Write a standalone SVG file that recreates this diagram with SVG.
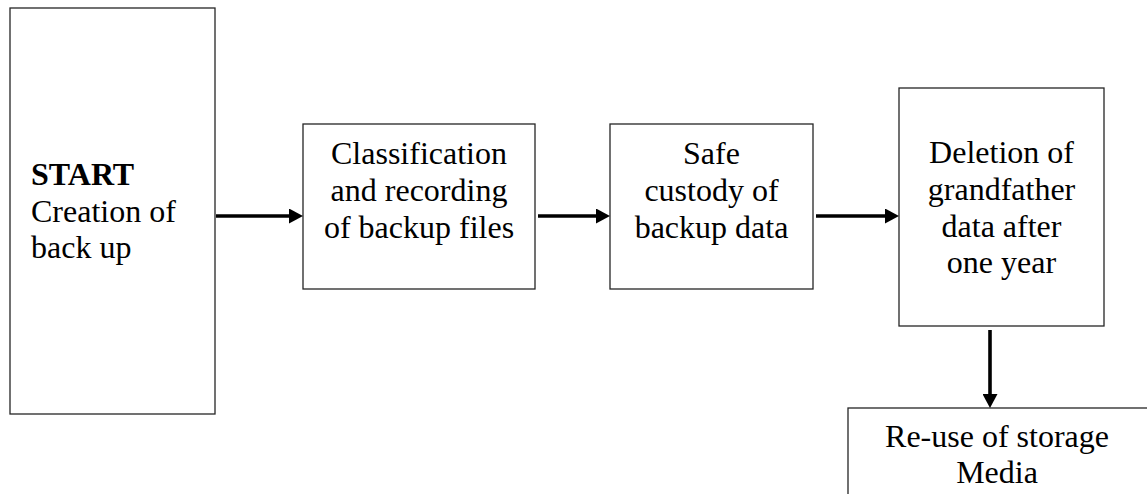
<svg xmlns="http://www.w3.org/2000/svg" width="1147" height="494" viewBox="0 0 1147 494">
  <style>
    .box { fill: #ffffff; stroke: #262626; stroke-width: 1.3; }
    .lbl { font-family: "Liberation Serif", "Times New Roman", serif; font-size: 32px; fill: #000000; }
    .mid { text-anchor: middle; }
    .bold { font-weight: bold; }
    .conn { stroke: #000000; stroke-width: 3.6; fill: none; }
  </style>
  <defs>
    <marker id="arrow" viewBox="0 0 14 15" refX="4" refY="7.5" markerWidth="14" markerHeight="15" markerUnits="userSpaceOnUse" orient="auto">
      <path d="M0,0 L14,7.5 L0,15 Z" fill="#000000"/>
    </marker>
  </defs>

  <rect width="1147" height="494" fill="#ffffff"/>

  <!-- Backup lifecycle steps -->
  <g id="node-start">
    <rect class="box" x="10" y="8" width="205" height="406"/>
    <text class="lbl bold" x="31" y="185">START</text>
    <text class="lbl" x="31" y="222">Creation of</text>
    <text class="lbl" x="31" y="258">back up</text>
  </g>

  <g id="node-classification">
    <rect class="box" x="303" y="124" width="232" height="165"/>
    <text class="lbl mid" x="419" y="164">Classification</text>
    <text class="lbl mid" x="419" y="201">and recording</text>
    <text class="lbl mid" x="419" y="238">of backup files</text>
  </g>

  <g id="node-custody">
    <rect class="box" x="610" y="124" width="203" height="165"/>
    <text class="lbl mid" x="711.5" y="164">Safe</text>
    <text class="lbl mid" x="711.5" y="201">custody of</text>
    <text class="lbl mid" x="711.5" y="238">backup data</text>
  </g>

  <g id="node-deletion">
    <rect class="box" x="899" y="88" width="205" height="238"/>
    <text class="lbl mid" x="1001.5" y="163">Deletion of</text>
    <text class="lbl mid" x="1001.5" y="200">grandfather</text>
    <text class="lbl mid" x="1001.5" y="237">data after</text>
    <text class="lbl mid" x="1001.5" y="273">one year</text>
  </g>

  <g id="node-reuse">
    <rect class="box" x="848" y="408" width="320" height="120"/>
    <text class="lbl mid" x="997" y="447">Re-use of storage</text>
    <text class="lbl mid" x="997" y="483">Media</text>
  </g>

  <!-- Flow connectors -->
  <g id="connectors">
    <line class="conn" x1="216" y1="216" x2="293" y2="216" marker-end="url(#arrow)"/>
    <line class="conn" x1="538" y1="216" x2="600" y2="216" marker-end="url(#arrow)"/>
    <line class="conn" x1="816" y1="216" x2="889" y2="216" marker-end="url(#arrow)"/>
    <line class="conn" x1="990" y1="330" x2="990" y2="398" marker-end="url(#arrow)"/>
  </g>
</svg>
